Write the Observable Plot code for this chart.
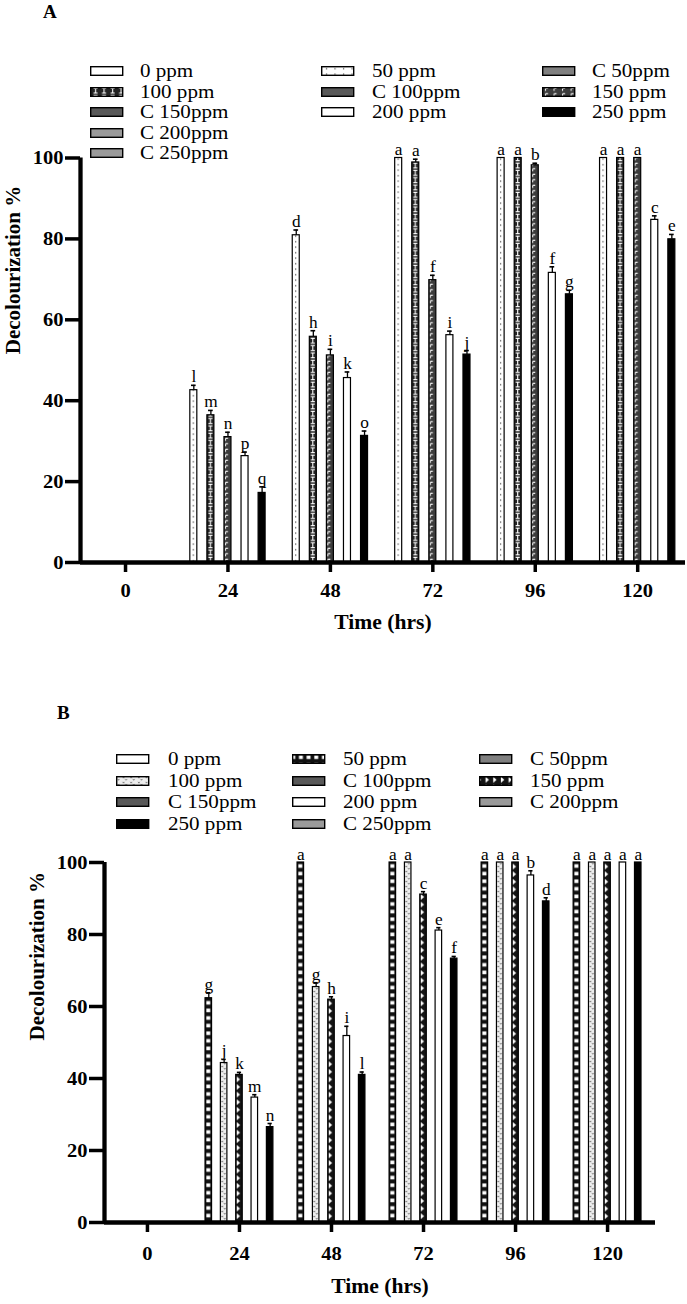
<!DOCTYPE html>
<html><head><meta charset="utf-8">
<script src="https://cdn.jsdelivr.net/npm/d3@7"></script>
<script src="https://cdn.jsdelivr.net/npm/@observablehq/plot@0.6"></script>
<style>
body{margin:0;background:#fff;font-family:"Liberation Serif","Times New Roman",serif;}
#page{position:relative;width:687px;height:1304px;overflow:hidden;background:#fff;}
.abs{position:absolute;}
.ptitle{position:absolute;font-weight:bold;font-size:19px;line-height:20px;}
.ltxt{position:absolute;font-size:19.5px;line-height:20px;height:20px;white-space:nowrap;}
.st{display:inline-block;transform-origin:0 50%;}
</style></head><body><div id="page"></div>
<svg id="defs" width="0" height="0" style="position:absolute"></svg>
<script>
// ---------------- data ----------------
const hours = [0, 24, 48, 72, 96, 120];
const hourLabels = ["0", "24", "48", "72", "96", "120"];
const yTicks = [0, 20, 40, 60, 80, 100];
const series = ["0 ppm", "50 ppm", "C 50ppm", "100 ppm", "C 100ppm", "150 ppm", "C 150ppm", "200 ppm", "C 200ppm", "250 ppm", "C 250ppm"];

// Panel A — Decolourization % by time
const A_0ppm    = [0, 0, 0, 0, 0, 0];
const A_50ppm   = [0, 42.6, 80.9, 100, 100, 100];
const A_C50ppm  = [0, 0, 0, 0, 0, 0];
const A_100ppm  = [0, 36.4, 55.8, 98.9, 100, 100];
const A_C100ppm = [0, 0, 0, 0, 0, 0];
const A_150ppm  = [0, 31.0, 51.2, 69.8, 98.2, 100];
const A_C150ppm = [0, 0, 0, 0, 0, 0];
const A_200ppm  = [0, 26.3, 45.6, 56.2, 71.6, 84.7];
const A_C200ppm = [0, 0, 0, 0, 0, 0];
const A_250ppm  = [0, 17.2, 31.3, 51.4, 66.3, 79.9];
const A_C250ppm = [0, 0, 0, 0, 0, 0];
// error (SD) values
const A_err50  = [0, 1.2, 1.3, 0, 0, 0];
const A_err100 = [0, 1.2, 1.5, 0.8, 0, 0];
const A_err150 = [0, 1.2, 1.5, 1.2, 0.5, 0];
const A_err200 = [0, 1.0, 1.5, 1.0, 1.5, 1.0];
const A_err250 = [0, 1.5, 1.2, 1.0, 1.0, 1.2];
// significance letters
const A_let50  = ["", "l", "d", "a", "a", "a"];
const A_let100 = ["", "m", "h", "a", "a", "a"];
const A_let150 = ["", "n", "i", "f", "b", "a"];
const A_let200 = ["", "p", "k", "i", "f", "c"];
const A_let250 = ["", "q", "o", "j", "g", "e"];

// Panel B — Decolourization % by time
const B_0ppm    = [0, 0, 0, 0, 0, 0];
const B_50ppm   = [0, 62.3, 100, 100, 100, 100];
const B_C50ppm  = [0, 0, 0, 0, 0, 0];
const B_100ppm  = [0, 44.3, 65.4, 100, 100, 100];
const B_C100ppm = [0, 0, 0, 0, 0, 0];
const B_150ppm  = [0, 41.0, 61.9, 91.1, 100, 100];
const B_C150ppm = [0, 0, 0, 0, 0, 0];
const B_200ppm  = [0, 34.7, 51.8, 81.1, 96.4, 100];
const B_C200ppm = [0, 0, 0, 0, 0, 0];
const B_250ppm  = [0, 26.5, 41.0, 73.3, 89.2, 100];
const B_C250ppm = [0, 0, 0, 0, 0, 0];
const B_err50  = [0, 1.5, 0, 0, 0, 0];
const B_err100 = [0, 1.0, 1.2, 0, 0, 0];
const B_err150 = [0, 0.7, 0.8, 0.8, 0, 0];
const B_err200 = [0, 0.8, 2.7, 0.8, 1.3, 0];
const B_err250 = [0, 1.0, 0.8, 0.6, 1.0, 0];
const B_let50  = ["", "g", "a", "a", "a", "a"];
const B_let100 = ["", "j", "g", "a", "a", "a"];
const B_let150 = ["", "k", "h", "c", "a", "a"];
const B_let200 = ["", "m", "i", "e", "b", "a"];
const B_let250 = ["", "n", "l", "f", "d", "a"];

// legend layout (columns, as printed)
const legendColsA = [["0 ppm", "100 ppm", "C 150ppm", "C 200ppm", "C 250ppm"], ["50 ppm", "C 100ppm", "200 ppm"], ["C 50ppm", "150 ppm", "250 ppm"]];
const legendColsB = [["0 ppm", "100 ppm", "C 150ppm", "250 ppm"], ["50 ppm", "C 100ppm", "200 ppm", "C 250ppm"], ["C 50ppm", "150 ppm", "C 200ppm"]];

const xTitle = "Time (hrs)";
const yTitle = "Decolourization %";

// ---------------- styles ----------------
const TX = 1.08;      // slight horizontal text stretch of the reference
const SLOT = 2;       // hours between neighbouring series bars
const fillsA = {"0 ppm": "#fff", "50 ppm": "url(#pA50)", "C 50ppm": "#808080", "100 ppm": "url(#pA100)", "C 100ppm": "#595959",
  "150 ppm": "url(#pA150)", "C 150ppm": "#595959", "200 ppm": "#fff", "C 200ppm": "#9a9a9a", "250 ppm": "#000", "C 250ppm": "#9a9a9a"};
const fillsB = {"0 ppm": "#fff", "50 ppm": "url(#pB50)", "C 50ppm": "#808080", "100 ppm": "url(#pB100)", "C 100ppm": "#595959",
  "150 ppm": "url(#pB150)", "C 150ppm": "#595959", "200 ppm": "#fff", "C 200ppm": "#9a9a9a", "250 ppm": "#000", "C 250ppm": "#9a9a9a"};

const Z = [0, 0, 0, 0, 0, 0], N = ["", "", "", "", "", ""];
function buildRows(vals, errs, lets) {
  const rows = [];
  series.forEach((s, i) => hours.forEach((h, j) => rows.push({
    series: s, hour: h, x: h + (i - 5) * SLOT, v: vals[i][j], err: errs[i][j], letter: lets[i][j]
  })));
  return rows;
}
const rowsA = buildRows(
  [A_0ppm, A_50ppm, A_C50ppm, A_100ppm, A_C100ppm, A_150ppm, A_C150ppm, A_200ppm, A_C200ppm, A_250ppm, A_C250ppm],
  [Z, A_err50, Z, A_err100, Z, A_err150, Z, A_err200, Z, A_err250, Z],
  [N, A_let50, N, A_let100, N, A_let150, N, A_let200, N, A_let250, N]);
const rowsB = buildRows(
  [B_0ppm, B_50ppm, B_C50ppm, B_100ppm, B_C100ppm, B_150ppm, B_C150ppm, B_200ppm, B_C200ppm, B_250ppm, B_C250ppm],
  [Z, B_err50, Z, B_err100, Z, B_err150, Z, B_err200, Z, B_err250, Z],
  [N, B_let50, N, B_let100, N, B_let150, N, B_let200, N, B_let250, N]);

const page = document.getElementById("page");

function stretchTexts(svg, s) {
  svg.querySelectorAll("text").forEach(t => {
    const tr = t.getAttribute("transform") || "";
    if (tr.includes("rotate")) return;
    const x = parseFloat(t.getAttribute("x")) || 0;
    t.setAttribute("transform", `${tr} translate(${x},0) scale(${s},1) translate(${-x},0)`);
  });
}

function makeChart(cfg) {
  const {rows, domainX, top, height, mt, mb, ml, mr, hw, fills, tickPad, xTitleDy, yTitleDy} = cfg;
  const errRows = rows.filter(d => d.err > 0);
  const letRows = rows.filter(d => d.letter);
  const marks = [];
  for (const s of series) {
    marks.push(Plot.rect(rows.filter(d => d.series === s), {
      x1: d => d.x - hw, x2: d => d.x + hw, y1: 0, y2: "v",
      fill: fills[s], stroke: "#000", strokeWidth: 1.2
    }));
  }
  marks.push(Plot.ruleX(errRows, {x: "x", y1: "v", y2: d => d.v + d.err, stroke: "#000", strokeWidth: 1.3}));
  marks.push(Plot.ruleY(errRows, {y: d => d.v + d.err, x1: d => d.x - 0.55, x2: d => d.x + 0.55, stroke: "#000", strokeWidth: 1.6}));
  marks.push(Plot.text(letRows, {x: "x", y: d => d.v + d.err, text: "letter", lineAnchor: "bottom", dy: -3,
    fontSize: 16, fontWeight: "normal", fill: "#000"}));
  marks.push(Plot.axisY({ticks: yTicks, tickSize: 15, tickPadding: 2, strokeWidth: 3.5, fontSize: 19, fontWeight: "bold", label: null}));
  marks.push(Plot.axisX({ticks: hours, tickFormat: (d) => hourLabels[hours.indexOf(d)], tickSize: 10, tickPadding: tickPad,
    strokeWidth: 3.5, fontSize: 19, fontWeight: "bold", label: null}));
  marks.push(Plot.ruleY([0], {stroke: "#000", strokeWidth: 4.5}));
  marks.push(Plot.ruleX([domainX[0]], {y1: 0, y2: 100, stroke: "#000", strokeWidth: 4.3}));
  marks.push(Plot.text([xTitle], {text: d => d, frameAnchor: "bottom", dy: xTitleDy, fontSize: 20, fontWeight: "bold"}));
  marks.push(Plot.text([yTitle], {text: d => d, frameAnchor: "left", rotate: -90, dx: -67, dy: yTitleDy, fontSize: 21, fontWeight: "bold"}));

  const chart = Plot.plot({
    width: 687, height, marginTop: mt, marginBottom: mb, marginLeft: ml, marginRight: mr,
    x: {domain: domainX, axis: null},
    y: {domain: [0, 100], axis: null},
    style: {fontFamily: "'Liberation Serif', 'Times New Roman', serif", color: "#000", background: "transparent", overflow: "visible"},
    marks
  });
  stretchTexts(chart, TX);
  const wrap = document.createElement("div");
  wrap.className = "abs";
  wrap.style.left = "0px"; wrap.style.top = top + "px";
  wrap.appendChild(chart);
  page.appendChild(wrap);
  return chart;
}

function patternDefs(prefix, sx, hw) {
  const x0 = sx.apply(-hw);
  const w = sx.apply(SLOT) - sx.apply(0);
  const bw = sx.apply(hw) - sx.apply(-hw);
  const c = bw / 2;
  const P = (id, h, body) => `<pattern id="${prefix}${id}" patternUnits="userSpaceOnUse" x="${x0}" y="0" width="${w}" height="${h}">${body}</pattern>`;
  if (prefix === "pA") {
    return P("50", 5.5, `<rect width="${w}" height="5.5" fill="#fff"/><circle cx="${c}" cy="2.7" r="0.6" fill="#000"/>`) +
      P("100", 7.3, `<rect width="${w}" height="7.3" fill="#232323"/><path d="M${c - 2},1.3H${c + 2}M${c - 2},6H${c + 2}M${c},1.3V6" stroke="#fff" stroke-width="1.1" fill="none"/>`) +
      P("150", 5.5, `<rect width="${w}" height="5.5" fill="#3c3c3c"/><path d="M${c - 2},1.3H${c + 0.5}M${c - 2},1.3V3.8" stroke="#fff" stroke-width="1" fill="none"/>`);
  }
  return P("50", 7.6, `<rect width="${w}" height="7.6" fill="#111"/><rect x="1.3" y="1.4" width="${bw - 2.6}" height="3.6" fill="#fff"/>`) +
    P("100", 5, `<rect width="${w}" height="5" fill="#eeeeee"/><path d="M${c - 2.2},0.8L${c - 1.4},2.2L${c - 0.6},0.8M${c + 0.4},2.9L${c + 1.2},4.3L${c + 2},2.9" stroke="#555" stroke-width="0.7" fill="none"/>`) +
    P("150", 7.6, `<rect width="${w}" height="7.6" fill="#141414"/><path d="M0.9,0.8L${c + 1},3.8L0.9,6.8Z" fill="#fff"/>`);
}

function legend(cols, fills, swX, txX, row0, dRow) {
  cols.forEach((col, ci) => col.forEach((label, ri) => {
    const cy = row0 + ri * dRow;
    const sw = document.createElement("div");
    sw.className = "abs";
    sw.style.left = swX[ci] + "px"; sw.style.top = (cy - 5) + "px";
    sw.innerHTML = `<svg width="34" height="10" style="display:block"><rect x="0.7" y="0.7" width="32" height="8.6" fill="${fills[label]}" stroke="#000" stroke-width="1.4"/></svg>`;
    page.appendChild(sw);
    const tx = document.createElement("div");
    tx.className = "ltxt";
    tx.style.left = txX[ci] + "px"; tx.style.top = (cy - 10) + "px";
    tx.innerHTML = `<span class="st" style="transform:scaleX(${TX})">${label}</span>`;
    page.appendChild(tx);
  }));
}

function title(t, x, y) {
  const d = document.createElement("div");
  d.className = "ptitle";
  d.style.left = x + "px"; d.style.top = (y - 10) + "px";
  d.textContent = t;
  page.appendChild(d);
}

const hwA = 0.82, hwB = 0.85;
const chartA = makeChart({rows: rowsA, domainX: [-10.55, 131.2], top: 140, height: 510, mt: 17.5, mb: 88, ml: 80, mr: 2,
  hw: hwA, fills: fillsA, tickPad: 11, xTitleDy: 66, yTitleDy: -6});
const chartB = makeChart({rows: rowsB, domainX: [-11.2, 132.5], top: 840, height: 464, mt: 22, mb: 82, ml: 104, mr: 32,
  hw: hwB, fills: fillsB, tickPad: 14, xTitleDy: 70, yTitleDy: -2});

document.getElementById("defs").innerHTML = "<defs>" + patternDefs("pA", chartA.scale("x"), hwA) + patternDefs("pB", chartB.scale("x"), hwB) + "</defs>";

title("A", 43, 12);
title("B", 57, 713);
legend(legendColsA, fillsA, [90, 321, 542], [140, 372, 592], 71, 20.5);
legend(legendColsB, fillsB, [116, 292, 479], [168, 343, 530], 759, 21.7);
</script>
</body></html>
